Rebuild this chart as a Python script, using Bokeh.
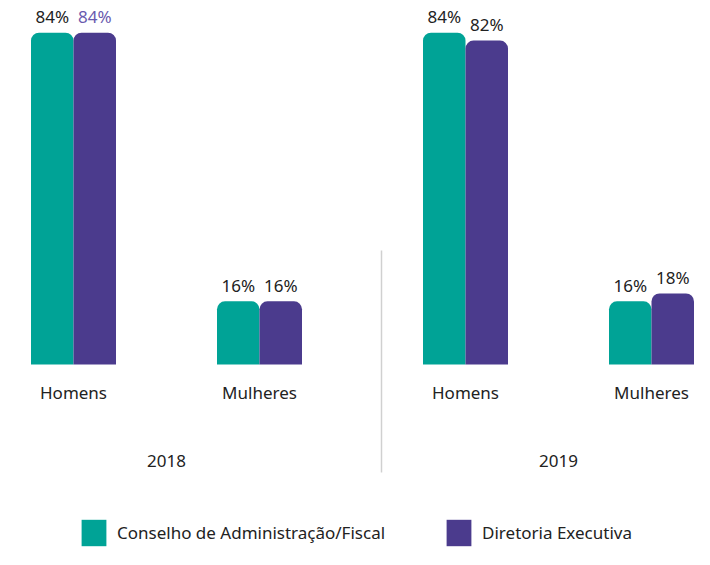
from bokeh.plotting import figure
from bokeh.models import Range1d, ColumnDataSource, Legend, LegendItem
from bokeh.core.properties import value
from bokeh.embed import file_html
from bokeh.resources import INLINE

# ---- data ----
years = ["2018", "2019"]
genders = ["Homens", "Mulheres"]
series = ["Conselho de Administração/Fiscal", "Diretoria Executiva"]
conselho = [84, 16, 84, 16]    # 2018 Homens, 2018 Mulheres, 2019 Homens, 2019 Mulheres
diretoria = [84, 16, 82, 18]
colors = ["#00A396", "#4B3B8D"]
label_colors_conselho = ["#222222", "#222222", "#222222", "#222222"]
label_colors_diretoria = ["#6A5AAE", "#222222", "#222222", "#222222"]

# ---- layout constants (pixels) ----
W, H = 694, 549
BASE_Y = 364          # baseline position from frame top
PX_PER_UNIT = 3.95
X0, CAT_STEP, YEAR_STEP = 73, 186, 392
BAR_W = 42.5
FONT = "Noto Sans"
FS = "17px"

def ypx(px_from_top):
    return (BASE_Y - px_from_top) / PX_PER_UNIT

p = figure(width=W, height=H, output_backend="svg", toolbar_location=None,
           x_range=Range1d(0, W), y_range=Range1d(ypx(H), ypx(0)),
           min_border=0, min_border_left=0, min_border_right=0,
           min_border_top=0, min_border_bottom=0)
p.axis.visible = False
p.grid.visible = False
p.outline_line_color = None
p.background_fill_color = "white"
p.border_fill_color = "white"

cat_x, cat_lab, year_x = [], [], []
for yi, yr in enumerate(years):
    xs = []
    for ci, g in enumerate(genders):
        cx = X0 + yi * YEAR_STEP + ci * CAT_STEP
        cat_x.append(cx)
        cat_lab.append(g)
        xs.append(cx)
    year_x.append(sum(xs) / len(xs))

src1 = ColumnDataSource(dict(x=[c - BAR_W / 2 for c in cat_x], top=conselho,
                             lab=[f"{v}%" for v in conselho], tc=label_colors_conselho))
src2 = ColumnDataSource(dict(x=[c + BAR_W / 2 for c in cat_x], top=diretoria,
                             lab=[f"{v}%" for v in diretoria], tc=label_colors_diretoria))

r1 = p.vbar(x="x", top="top", bottom=0, width=BAR_W, source=src1,
            fill_color=colors[0], line_color=None, border_radius=(8, 8, 0, 0))
r2 = p.vbar(x="x", top="top", bottom=0, width=BAR_W, source=src2,
            fill_color=colors[1], line_color=None, border_radius=(8, 8, 0, 0))

for src in (src1, src2):
    p.text(x="x", y="top", text="lab", source=src, text_color="tc",
           text_font=value(FONT), text_font_size=FS,
           text_align="center", text_baseline="alphabetic", y_offset=-16)

# category labels
p.text(x=cat_x, y=[ypx(392)] * len(cat_x), text=cat_lab,
       text_font=value(FONT), text_font_size=FS, text_color="#222222",
       text_align="center", text_baseline="middle")
# year labels
p.text(x=year_x, y=[ypx(460)] * len(year_x), text=years,
       text_font=value(FONT), text_font_size=FS, text_color="#222222",
       text_align="center", text_baseline="middle")

# divider between years
div_x = 381
p.segment(x0=[div_x], x1=[div_x], y0=[ypx(250)], y1=[ypx(472)],
          line_color="#D0D0D0", line_width=1.5)

legend = Legend(items=[LegendItem(label=series[0], renderers=[r1]),
                       LegendItem(label=series[1], renderers=[r2])],
                orientation="horizontal", location=(78, 0),
                glyph_width=31, glyph_height=33, label_standoff=8, spacing=58,
                padding=0, margin=0, border_line_color=None,
                background_fill_alpha=0,
                label_text_font=FONT, label_text_font_size=FS,
                label_text_color="#222222")
p.add_layout(legend, "center")

open("out.html", "w").write(file_html(p, INLINE))
